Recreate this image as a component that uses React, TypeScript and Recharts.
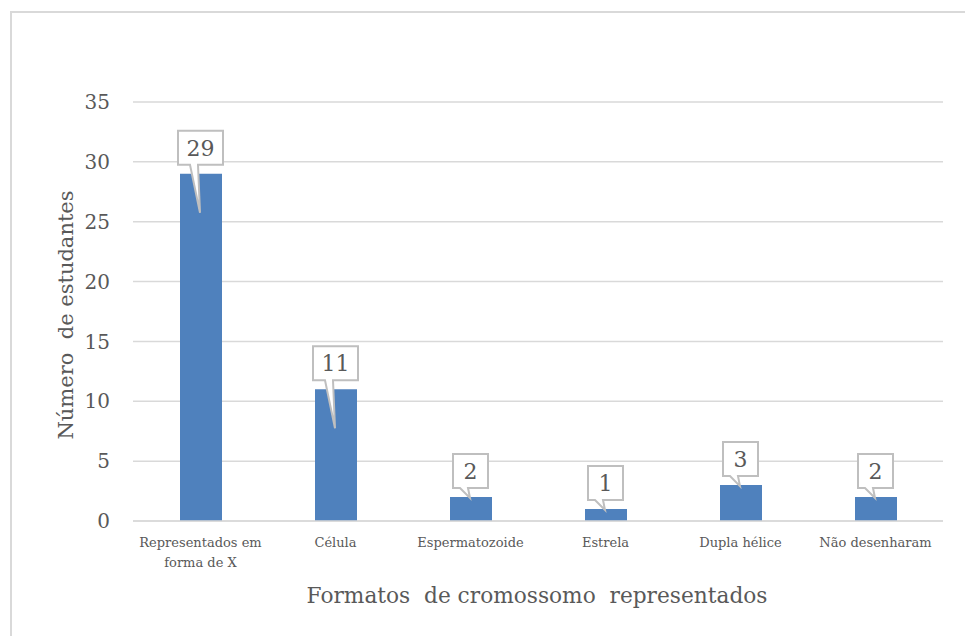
import { Bar, BarChart, CartesianGrid, LabelList, Text, XAxis, YAxis } from 'recharts'

const CATEGORIES = [
  'Representados em forma de X',
  'Célula',
  'Espermatozoide',
  'Estrela',
  'Dupla hélice',
  'Não desenharam',
]
const STUDENTS = [29, 11, 2, 1, 3, 2]
const Y_TICKS = [0, 5, 10, 15, 20, 25, 30, 35]

const data = CATEGORIES.map((name, i) => ({ name, value: STUDENTS[i] }))

const FONT = '"DejaVu Serif", serif'
const GRAY = '#595959'
const LINE = '#d9d9d9'

function CategoryTick(props: any) {
  const { x, y, payload } = props
  return (
    <Text
      x={x}
      y={y + 17}
      width={132}
      textAnchor="middle"
      verticalAnchor="start"
      lineHeight={20}
      fontSize={13}
      fontFamily={FONT}
      fill={GRAY}
    >
      {payload.value}
    </Text>
  )
}

// speech-bubble style data label, like the Excel callout
function Callout(props: any) {
  const { x, y, width, height, value } = props
  const cx = x + width / 2
  const w = String(value).length > 1 ? 45 : 35
  const h = 34
  const bottom = y - 9
  const top = bottom - h
  const left = cx - w / 2 - 0.5
  const right = left + w
  const tipY = height > 60 ? y + 39 : y + 1
  const d = `M${left},${top} H${right} V${bottom} H${cx - 3} L${cx - 1},${tipY} L${cx - 11},${bottom} H${left} Z`
  return (
    <g>
      <path d={d} fill="#ffffff" stroke="#bfbfbf" strokeWidth={2} strokeLinejoin="miter" />
      <text
        x={left + w / 2}
        y={top + h / 2 + 8}
        textAnchor="middle"
        fontSize={22}
        fontFamily={FONT}
        fill={GRAY}
      >
        {value}
      </text>
    </g>
  )
}

export default function App() {
  return (
    <div
      style={{
        position: 'fixed',
        left: 0,
        top: 0,
        width: 965,
        height: 636,
        overflow: 'hidden',
        background: '#ffffff',
      }}
    >
      <div
        style={{
          position: 'absolute',
          left: 10,
          top: 11,
          width: 1000,
          height: 700,
          border: `2px solid ${LINE}`,
        }}
      />
      <div style={{ position: 'absolute', left: 0, top: 0 }}>
        <BarChart
          width={965}
          height={636}
          data={data}
          margin={{ top: 102, right: 22, bottom: 0, left: 0 }}
          barCategoryGap={0}
        >
          <CartesianGrid vertical={false} stroke={LINE} strokeWidth={1.5} />
          <XAxis
            dataKey="name"
            interval={0}
            tickLine={false}
            tickSize={0}
            tickMargin={0}
            axisLine={{ stroke: LINE, strokeWidth: 1.5 }}
            tick={<CategoryTick />}
            height={115}
            label={() => (
              <text
                x={537}
                y={603}
                textAnchor="middle"
                fontSize={21.7}
                fontFamily={FONT}
                fill={GRAY}
                style={{ whiteSpace: 'pre' }}
              >
                Formatos  de cromossomo  representados
              </text>
            )}
          />
          <YAxis
            width={133}
            domain={[0, 35]}
            ticks={Y_TICKS}
            interval={0}
            axisLine={false}
            tickLine={false}
            tickSize={0}
            tickMargin={23}
            tick={{ fontSize: 20, fontFamily: FONT, fill: GRAY }}
            label={() => (
              <text
                x={73}
                y={315}
                transform="rotate(-90 73 315)"
                textAnchor="middle"
                fontSize={21}
                fontFamily={FONT}
                fill={GRAY}
                style={{ whiteSpace: 'pre' }}
              >
                Número  de estudantes
              </text>
            )}
          />
          <Bar dataKey="value" fill="#4f81bd" barSize={42} isAnimationActive={false}>
            <LabelList dataKey="value" content={<Callout />} />
          </Bar>
        </BarChart>
      </div>
    </div>
  )
}
